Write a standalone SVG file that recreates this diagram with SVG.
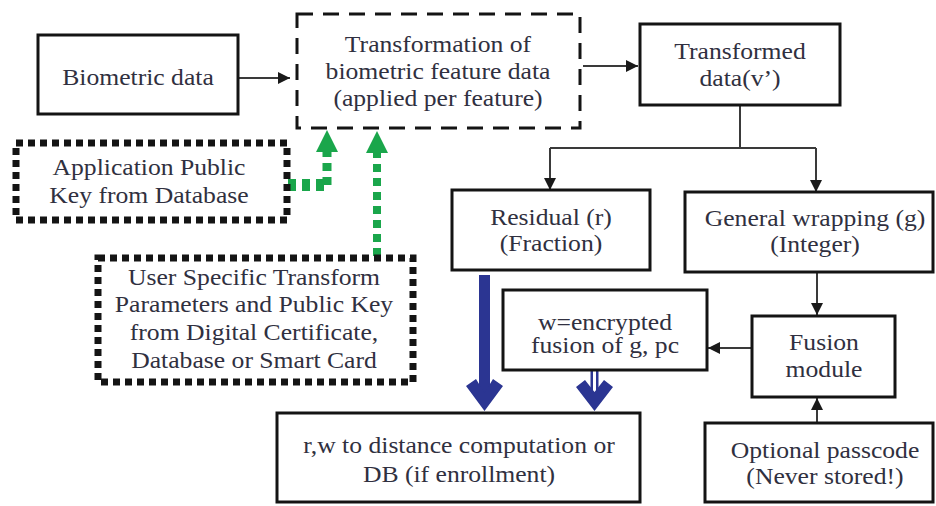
<svg xmlns="http://www.w3.org/2000/svg" width="936" height="506" viewBox="0 0 936 506">
  <style>
    .box { fill: #fff; stroke: #141414; stroke-width: 3; }
    .dash { fill: #fff; stroke: #141414; stroke-width: 3; stroke-dasharray: 16 10; }
    .dots { fill: #fff; stroke: #141414; stroke-width: 7; stroke-dasharray: 7 5; }
    .t { font-family: "Liberation Serif", "Times New Roman", serif; font-size: 22.5px; fill: #303040; text-anchor: middle; }
    .line { fill: none; stroke: #3a3a3a; stroke-width: 2; }
    .gline { fill: none; stroke: #1aa64b; stroke-dasharray: 8 6; }
    .ghead { fill: #1aa64b; }
    .blue { fill: #2b3592; }
  </style>
  <defs>
    <marker id="arr" viewBox="0 0 12 12" refX="12" refY="6" markerWidth="12" markerHeight="12" markerUnits="userSpaceOnUse" orient="auto">
      <path d="M0,0 L12,6 L0,12 Z" fill="#1a1a1a"/>
    </marker>
  </defs>
  <rect width="936" height="506" fill="#fff"/>

  <!-- connectors -->
  <g id="connectors">
    <path class="line" d="M238,78 H290" marker-end="url(#arr)"/>
    <path class="line" d="M583,66 H638" marker-end="url(#arr)"/>
    <path class="line" d="M740,105 V148 M550,148 H816"/>
    <path class="line" d="M550,148 V190" marker-end="url(#arr)"/>
    <path class="line" d="M816,148 V192" marker-end="url(#arr)"/>
    <path class="line" d="M817,272 V315" marker-end="url(#arr)"/>
    <path class="line" d="M752,348 H708" marker-end="url(#arr)"/>
    <path class="line" d="M817,423 V398" marker-end="url(#arr)"/>

    <!-- green dotted key inputs -->
    <path class="gline" d="M288,185 H327" stroke-width="12" stroke-dasharray="12 10"/>
    <path class="gline" d="M327,185 V150" stroke-width="9" stroke-dasharray="8 6"/>
    <polygon class="ghead" points="316,152 338,152 327,130"/>
    <path class="gline" d="M377,256 V150" stroke-width="8" stroke-dasharray="8 6"/>
    <polygon class="ghead" points="366,153 388,153 377,131"/>

    <!-- blue outputs -->
    <rect class="blue" x="479" y="275" width="11" height="122"/>
    <path class="blue" d="M466,386 L476,379 L484.5,393 L493,379 L503,386 L484.5,411 Z"/>
    <rect class="blue" x="590.5" y="371" width="2.5" height="24"/>
    <rect class="blue" x="596" y="371" width="2.5" height="24"/>
    <path class="blue" d="M576,387 L585,380 L594.5,392 L604,380 L613,387 L594.5,411 Z"/>
  </g>

  <g id="biometric">
    <rect class="box" x="38" y="35" width="200" height="79"/>
    <text class="t" transform="matrix(1.14 0 0 1 138 0)" x="0" y="85">Biometric data</text>
  </g>

  <g id="transformation">
    <rect class="dash" x="297" y="14" width="283" height="114"/>
    <text class="t" transform="matrix(1.14 0 0 1 438 0)" x="0" y="52">Transformation of</text>
    <text class="t" transform="matrix(1.14 0 0 1 438 0)" x="0" y="79">biometric feature data</text>
    <text class="t" transform="matrix(1.14 0 0 1 438 0)" x="0" y="106">(applied per feature)</text>
  </g>

  <g id="transformed">
    <rect class="box" x="640" y="24" width="200" height="81"/>
    <text class="t" transform="matrix(1.14 0 0 1 740 0)" x="0" y="59">Transformed</text>
    <text class="t" transform="matrix(1.14 0 0 1 740 0)" x="0" y="86">data(v’)</text>
  </g>

  <g id="app-key">
    <rect class="dots" x="16" y="143" width="271" height="77"/>
    <text class="t" transform="matrix(1.14 0 0 1 149 0)" x="0" y="175">Application Public</text>
    <text class="t" transform="matrix(1.14 0 0 1 149 0)" x="0" y="203">Key from Database</text>
  </g>

  <g id="user-params">
    <rect class="dots" x="98" y="258" width="315" height="124"/>
    <text class="t" transform="matrix(1.14 0 0 1 254 0)" x="0" y="285">User Specific Transform</text>
    <text class="t" transform="matrix(1.14 0 0 1 254 0)" x="0" y="312">Parameters and Public Key</text>
    <text class="t" transform="matrix(1.14 0 0 1 254 0)" x="0" y="340">from Digital Certificate,</text>
    <text class="t" transform="matrix(1.14 0 0 1 254 0)" x="0" y="368">Database or Smart Card</text>
  </g>

  <g id="residual">
    <rect class="box" x="452" y="190" width="198" height="80"/>
    <text class="t" transform="matrix(1.14 0 0 1 551 0)" x="0" y="225">Residual (r)</text>
    <text class="t" transform="matrix(1.14 0 0 1 551 0)" x="0" y="251">(Fraction)</text>
  </g>

  <g id="wrapping">
    <rect class="box" x="685" y="192" width="248" height="80"/>
    <text class="t" transform="matrix(1.14 0 0 1 815 0)" x="0" y="226">General wrapping (g)</text>
    <text class="t" transform="matrix(1.14 0 0 1 815 0)" x="0" y="252">(Integer)</text>
  </g>

  <g id="encrypted">
    <rect class="box" x="503" y="290" width="204" height="80"/>
    <text class="t" transform="matrix(1.14 0 0 1 605 0)" x="0" y="330">w=encrypted</text>
    <text class="t" transform="matrix(1.14 0 0 1 605 0)" x="0" y="353">fusion of g, pc</text>
  </g>

  <g id="fusion">
    <rect class="box" x="752" y="316" width="143" height="81"/>
    <text class="t" transform="matrix(1.14 0 0 1 824 0)" x="0" y="350">Fusion</text>
    <text class="t" transform="matrix(1.14 0 0 1 824 0)" x="0" y="377">module</text>
  </g>

  <g id="passcode">
    <rect class="box" x="705" y="423" width="228" height="79"/>
    <text class="t" transform="matrix(1.14 0 0 1 825 0)" x="0" y="458">Optional passcode</text>
    <text class="t" transform="matrix(1.14 0 0 1 825 0)" x="0" y="484">(Never stored!)</text>
  </g>

  <g id="output">
    <rect class="box" x="277" y="413" width="363" height="89"/>
    <text class="t" transform="matrix(1.14 0 0 1 459 0)" x="0" y="453">r,w to distance computation or</text>
    <text class="t" transform="matrix(1.14 0 0 1 459 0)" x="0" y="482">DB (if enrollment)</text>
  </g>
</svg>
